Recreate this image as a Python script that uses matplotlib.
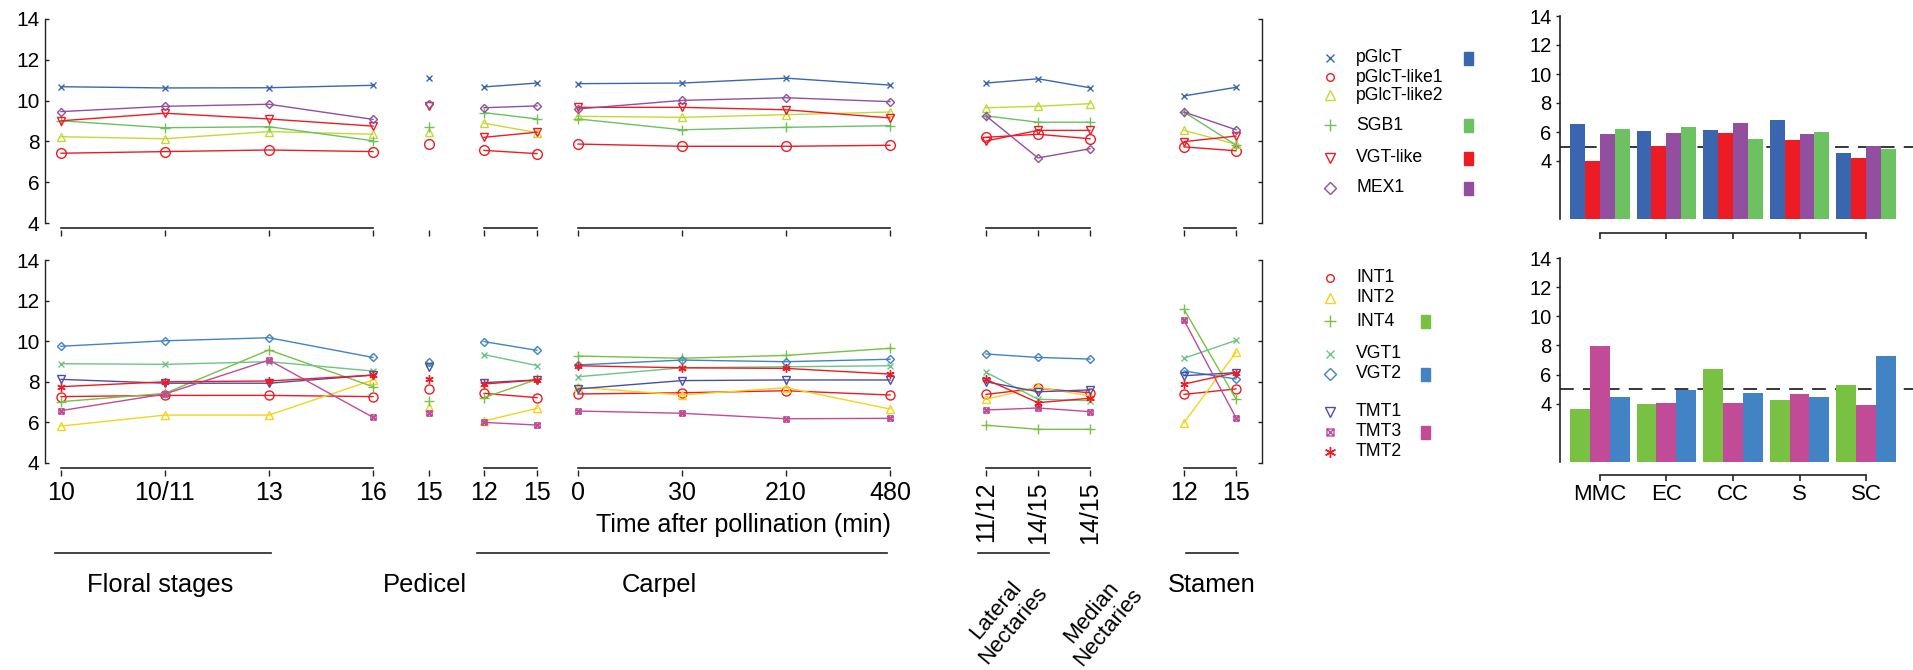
import numpy as np
import matplotlib
matplotlib.use('Agg')
import matplotlib.pyplot as plt
from matplotlib.path import Path

plt.rcParams['font.family'] = ['Liberation Sans', 'DejaVu Sans']

W, H = 1913, 670

# ---------------- data ----------------
tick_labels = ['10', '10/11', '13', '16', '15', '12', '15', '0', '30', '210', '480',
               '11/12', '14/15', '14/15', '12', '15']
# top panel
pGlcT = [10.68, 10.62, 10.63, 10.75, 11.10, 10.67, 10.86, 10.83, 10.86, 11.10, 10.76,
         10.86, 11.07, 10.63, 10.23, 10.65]
pGlcT_like1 = [7.42, 7.50, 7.58, 7.50, 7.89, 7.56, 7.40, 7.87, 7.76, 7.76, 7.81,
               8.20, 8.35, 8.13, 7.73, 7.54]
pGlcT_like2 = [8.23, 8.13, 8.48, 8.35, 8.48, 8.89, 8.43, 9.23, 9.18, 9.31, 9.44,
               9.65, 9.72, 9.85, 8.54, 7.86]
SGB1 = [9.01, 8.67, 8.72, 8.03, 8.69, 9.41, 9.10, 9.10, 8.57, 8.69, 8.77,
        9.25, 8.94, 8.94, 9.44, 7.82]
VGT_like = [9.01, 9.38, 9.10, 8.75, 9.74, 8.20, 8.45, 9.67, 9.67, 9.55, 9.15,
            8.02, 8.54, 8.54, 7.99, 8.26]
MEX1 = [9.46, 9.72, 9.82, 9.08, 9.82, 9.65, 9.74, 9.59, 10.01, 10.14, 9.95,
        9.25, 7.19, 7.64, 9.44, 8.57]
# bottom panel
INT1 = [7.27, 7.33, 7.33, 7.27, 7.63, 7.43, 7.22, 7.40, 7.46, 7.56, 7.35,
        7.38, 7.68, 7.46, 7.38, 7.65]
INT2 = [5.82, 6.36, 6.36, 8.09, 6.74, 6.07, 6.69, 7.73, 7.35, 7.71, 6.66,
        7.14, 7.73, 7.30, 5.99, 9.45]
INT4 = [7.02, 7.43, 9.57, 7.76, 7.07, 7.22, 8.12, 9.27, 9.16, 9.30, 9.65,
        5.86, 5.66, 5.66, 11.57, 7.15]
VGT1 = [8.89, 8.86, 8.99, 8.53, 8.90, 9.34, 8.80, 8.25, 8.69, 8.74, 8.79,
        8.47, 7.14, 7.07, 9.16, 10.04]
VGT2 = [9.75, 10.02, 10.17, 9.20, 8.98, 9.98, 9.55, 8.83, 9.07, 8.99, 9.11,
        9.37, 9.20, 9.12, 8.53, 8.14]
TMT1 = [8.12, 7.93, 7.93, 8.33, 8.74, 7.96, 8.09, 7.65, 8.06, 8.09, 8.09,
        8.00, 7.51, 7.60, 8.30, 8.45]
TMT3 = [6.58, 7.40, 9.07, 6.25, 6.45, 6.00, 5.87, 6.56, 6.45, 6.18, 6.20,
        6.61, 6.71, 6.53, 11.03, 6.23]
TMT2 = [7.76, 8.00, 8.04, 8.33, 8.12, 7.89, 8.09, 8.79, 8.69, 8.66, 8.38,
        8.12, 6.97, 7.19, 7.89, 8.45]

cells = ['MMC', 'EC', 'CC', 'S', 'SC']
bar_pGlcT = [6.55, 6.07, 6.14, 6.83, 4.55]
bar_VGT_like = [4.00, 5.03, 5.93, 5.45, 4.20]
bar_MEX1 = [5.86, 5.93, 6.62, 5.86, 5.03]
bar_SGB1 = [6.20, 6.34, 5.52, 6.00, 4.83]
bar_INT4 = [3.66, 4.00, 6.40, 4.27, 5.30]
bar_TMT3 = [7.97, 4.07, 4.07, 4.68, 3.93]
bar_VGT2 = [4.48, 4.96, 4.75, 4.48, 7.30]

# ---------------- layout / style ----------------
xpos = [61, 165, 269, 373, 429, 484, 537, 578, 682, 786, 890, 986, 1038, 1090, 1184, 1236]
segments = [(0, 4), (4, 5), (5, 7), (7, 11), (11, 14), (14, 16)]

C_BLUE = '#3a66b0'
C_RED = '#ed1c24'
C_YG = '#c5d935'
C_GREEN = '#6cc160'
C_PURPLE = '#924f9f'
C_YELLOW = '#f5d31a'
C_INT4 = '#79c142'
C_VGT1 = '#6cc585'
C_VGT2 = '#4183c4'
C_TMT1 = '#4a4ea6'
C_TMT3 = '#c24b98'

boxx = Path([(-1, -1), (1, -1), (1, 1), (-1, 1), (-1, -1), (-1, -1), (1, 1), (-1, 1), (1, -1)],
            [Path.MOVETO, Path.LINETO, Path.LINETO, Path.LINETO, Path.CLOSEPOLY,
             Path.MOVETO, Path.LINETO, Path.MOVETO, Path.LINETO])
AST = (6, 2, 0)

# (name, values, colour, marker, plot marker size, legend marker size)
top_series = [
    ('pGlcT', pGlcT, C_BLUE, 'x', 4.5, 6.0),
    ('pGlcT-like1', pGlcT_like1, C_RED, 'o', 7.0, 5.5),
    ('pGlcT-like2', pGlcT_like2, C_YG, '^', 5.5, 7.0),
    ('SGB1', SGB1, C_GREEN, '+', 6.5, 8.5),
    ('VGT-like', VGT_like, C_RED, 'v', 5.5, 7.0),
    ('MEX1', MEX1, C_PURPLE, 'D', 4.5, 6.5),
]
bot_series = [
    ('INT1', INT1, C_RED, 'o', 6.5, 5.5),
    ('INT2', INT2, C_YELLOW, '^', 5.5, 7.0),
    ('INT4', INT4, C_INT4, '+', 6.5, 8.5),
    ('VGT1', VGT1, C_VGT1, 'x', 4.5, 6.0),
    ('VGT2', VGT2, C_VGT2, 'D', 4.5, 6.5),
    ('TMT1', TMT1, C_TMT1, 'v', 5.5, 7.0),
    ('TMT3', TMT3, C_TMT3, boxx, 3.8, 5.0),
    ('TMT2', TMT2, C_RED, AST, 6.0, 8.0),
]

fig = plt.figure(figsize=(W / 100, H / 100), dpi=100)


def px_axes(x0, y0, x1, y1):
    return fig.add_axes([x0 / W, 1 - y1 / H, (x1 - x0) / W, (y1 - y0) / H])


AX_COL = '#222222'


def line_panel(y0, y1, series, show_labels):
    ax = px_axes(45, y0, 1262, y1)
    ax.set_xlim(45, 1262)
    ax.set_ylim(4, 14)
    ax.patch.set_visible(False)
    for name, vals, col, mk, ms, lms in series:
        for a, b in segments:
            ax.plot(xpos[a:b], vals[a:b], color=col, lw=1.0, marker=mk, ms=ms,
                    mfc='none', mec=col, mew=1.0, clip_on=False)
    ax.spines['top'].set_visible(False)
    ax.spines['bottom'].set_visible(False)
    ax.spines['bottom'].set_position(('outward', 5))
    for s in ('left', 'right'):
        ax.spines[s].set_color(AX_COL)
        ax.spines[s].set_linewidth(1.0)
    ax.set_yticks([4, 6, 8, 10, 12, 14])
    ax.tick_params(axis='y', direction='in', length=3, width=1.0, color=AX_COL,
                   right=True, labelright=False, labelsize=15, pad=4)
    ax.set_xticks(xpos)
    ax.tick_params(axis='x', direction='out', length=4, width=1.0, color=AX_COL,
                   labelsize=18, pad=4, labelbottom=show_labels)
    if show_labels:
        ax.set_xticklabels(tick_labels)
        for i, t in enumerate(ax.get_xticklabels()):
            if 11 <= i <= 13:
                t.set_rotation(90)
    off = -5.0 / (y1 - y0)
    for a, b in segments:
        if b - a > 1:
            ax.plot([xpos[a], xpos[b - 1]], [off, off], color=AX_COL, lw=1.2,
                    transform=ax.get_xaxis_transform(), clip_on=False)
    return ax


ax_top = line_panel(19, 223, top_series, False)
ax_bot = line_panel(260, 463, bot_series, True)


def bar_panel(y0, y1, series, show_labels, outward):
    ax = px_axes(1560, y0, 1913, y1)
    ax.patch.set_visible(False)
    n = len(series)
    w = 0.9 / n
    x = np.arange(len(cells))
    for i, (vals, col) in enumerate(series):
        ax.bar(x - 0.45 + w * (i + 0.5), vals, width=w, color=col, zorder=2)
    ax.axhline(5, color='black', lw=1.1, ls=(0, (9, 6)), zorder=1)
    ax.set_xlim(-0.6, 4.706)
    ax.set_ylim(0, 14)
    ax.spines['top'].set_visible(False)
    ax.spines['right'].set_visible(False)
    ax.spines['bottom'].set_position(('outward', outward))
    ax.spines['bottom'].set_bounds(0, 4)
    for s in ('left', 'bottom'):
        ax.spines[s].set_color(AX_COL)
        ax.spines[s].set_linewidth(1.2)
    ax.set_yticks([4, 6, 8, 10, 12, 14])
    ax.tick_params(axis='y', direction='out', length=3, width=1.0, color=AX_COL,
                   labelsize=14.5, pad=3)
    ax.set_xticks(x)
    ax.set_xticklabels(cells)
    ax.tick_params(axis='x', direction='out', length=4, width=1.2, color=AX_COL,
                   labelsize=16, pad=3, labelbottom=show_labels)
    return ax


bar_panel(16, 219, [(bar_pGlcT, C_BLUE), (bar_VGT_like, C_RED), (bar_MEX1, C_PURPLE),
                    (bar_SGB1, C_GREEN)], False, 10)
bar_panel(258, 462, [(bar_INT4, C_INT4), (bar_TMT3, C_TMT3), (bar_VGT2, C_VGT2)], True, 9)

# ---------------- overlay: legends, group labels ----------------
ov = fig.add_axes([0, 0, 1, 1])
ov.set_xlim(0, W)
ov.set_ylim(H, 0)
ov.axis('off')
ov.patch.set_visible(False)

top_rows = [58, 77, 95, 125, 158, 188]
top_patch = {0: C_BLUE, 3: C_GREEN, 4: C_RED, 5: C_PURPLE}
for i, (name, vals, col, mk, ms, lms) in enumerate(top_series):
    ov.plot([1330], [top_rows[i]], marker=mk, ms=lms, mfc='none', mec=col, mew=1.0)
    ov.text(1356, top_rows[i], name, fontsize=12.7, va='center', ha='left')
    if i in top_patch:
        ov.add_patch(plt.Rectangle((1464, top_rows[i] - 6.5), 9, 13, color=top_patch[i]))

bot_rows = [278, 298, 321, 354, 374, 412, 432, 452]
bot_patch = {2: C_INT4, 4: C_VGT2, 6: C_TMT3}
for i, (name, vals, col, mk, ms, lms) in enumerate(bot_series):
    ov.plot([1330], [bot_rows[i]], marker=mk, ms=lms, mfc='none', mec=col, mew=1.0)
    ov.text(1356, bot_rows[i], name, fontsize=12.7, va='center', ha='left')
    if i in bot_patch:
        ov.add_patch(plt.Rectangle((1421, bot_rows[i] - 6.5), 9, 13, color=bot_patch[i]))

ov.text(743, 525, 'Time after pollination (min)', fontsize=18, ha='center', va='center')

for xa, xb in [(55, 271), (477, 887), (978, 1049), (1186, 1238)]:
    ov.plot([xa, xb], [553, 553], color=AX_COL, lw=1.2)

for label, xc in [('Floral stages', 160), ('Pedicel', 425), ('Carpel', 659), ('Stamen', 1212)]:
    ov.text(xc, 585, label, fontsize=18.4, ha='center', va='center')

ov.text(1005, 618, 'Lateral\nNectaries', fontsize=16, ha='center', va='center',
        rotation=50, multialignment='center', rotation_mode='anchor', linespacing=1.1)
ov.text(1100, 620, 'Median\nNectaries', fontsize=16, ha='center', va='center',
        rotation=50, multialignment='center', rotation_mode='anchor', linespacing=1.1)

fig.savefig('out.png', dpi=100)
